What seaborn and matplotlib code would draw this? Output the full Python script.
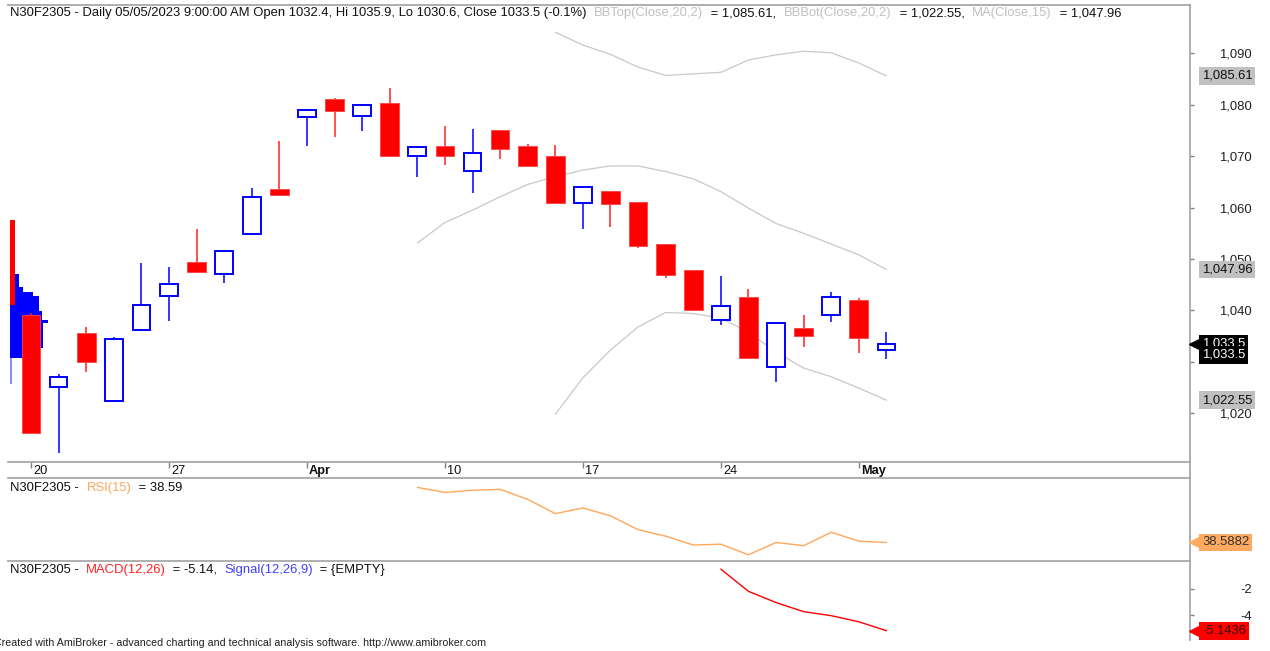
import numpy as np
import pandas as pd
import seaborn as sns
import matplotlib
matplotlib.use("Agg")
from matplotlib import pyplot as plt
from matplotlib import transforms

nan = np.nan

# ---- data (N30F2305 daily) ----
dates = ["2023-03-20", "2023-03-21", "2023-03-22", "2023-03-23", "2023-03-24",
         "2023-03-27", "2023-03-28", "2023-03-29", "2023-03-30", "2023-03-31",
         "2023-04-03", "2023-04-04", "2023-04-05", "2023-04-06", "2023-04-07",
         "2023-04-10", "2023-04-11", "2023-04-12", "2023-04-13", "2023-04-14",
         "2023-04-17", "2023-04-18", "2023-04-19", "2023-04-20", "2023-04-21",
         "2023-04-24", "2023-04-25", "2023-04-26", "2023-04-27", "2023-04-28",
         "2023-05-04", "2023-05-05"]
opens = [1039.1, 1025.1, 1035.7, 1022.3, 1036.1, 1042.8, 1049.5, 1047.0, 1054.9, 1063.6,
         1077.6, 1081.1, 1077.75, 1080.3, 1070.0, 1072.0, 1067.1, 1075.1, 1072.0, 1070.1,
         1060.95, 1063.2, 1061.0, 1052.9, 1047.9, 1038.1, 1042.7, 1029.0, 1036.6, 1039.1,
         1042.0, 1032.4]
highs = [1039.5, 1027.6, 1036.8, 1034.9, 1049.2, 1048.5, 1055.8, 1051.6, 1063.8, 1073.0,
         1079.0, 1081.4, 1079.9, 1083.25, 1071.7, 1075.9, 1075.3, 1075.1, 1072.4, 1072.2,
         1063.95, 1063.2, 1061.0, 1052.9, 1047.9, 1046.6, 1044.2, 1037.6, 1039.1, 1043.5,
         1042.5, 1035.9]
lows = [1016.2, 1012.3, 1028.0, 1022.3, 1036.1, 1037.9, 1047.5, 1045.3, 1054.9, 1062.4,
        1072.0, 1073.7, 1074.95, 1070.0, 1066.0, 1068.2, 1062.8, 1069.5, 1068.1, 1060.9,
        1055.9, 1056.2, 1052.1, 1046.25, 1040.1, 1037.1, 1030.8, 1026.0, 1032.8, 1037.7,
        1031.7, 1030.6]
closes = [1016.2, 1027.1, 1030.0, 1034.4, 1041.1, 1045.1, 1047.5, 1051.6, 1062.1, 1062.4,
          1079.0, 1078.8, 1079.9, 1070.0, 1071.7, 1070.0, 1070.7, 1071.45, 1068.1, 1060.9,
          1063.95, 1060.6, 1052.6, 1046.9, 1040.1, 1040.9, 1030.8, 1037.6, 1035.0, 1042.7,
          1034.6, 1033.5]

bb_top = [nan] * 19 + [1094.1, 1091.6, 1089.8, 1087.3, 1085.7, 1086.0, 1086.3, 1088.7,
                       1089.7, 1090.4, 1090.1, 1088.1, 1085.61]
bb_bot = [nan] * 19 + [1019.8, 1026.9, 1032.3, 1036.8, 1039.6, 1039.4, 1038.5, 1035.8,
                       1031.9, 1028.8, 1027.1, 1024.9, 1022.55]
ma15 = [nan] * 14 + [1053.1, 1057.1, 1059.5, 1062.1, 1064.5, 1066.0, 1067.3, 1068.1, 1068.1,
                     1067.0, 1065.6, 1063.1, 1059.9, 1056.9, 1055.0, 1052.9, 1050.8, 1047.96]
rsi15 = [nan] * 14 + [64.0, 61.7, 62.7, 63.1, 58.5, 51.9, 54.5, 50.9, 44.5, 41.5, 37.4, 37.8,
                      32.9, 38.6, 37.1, 43.3, 39.2, 38.5882]
macd = [nan] * 25 + [-0.54, -2.2, -3.04, -3.72, -4.02, -4.48, -5.1436]

# volume-at-price overlay (price band, relative volume)
vap_lo = [1044.5, 1043.65, 1042.9, 1039.8, 1039.25, 1038.15, 1037.5, 1036.2, 1032.65, 1030.7, 1025.7]
vap_hi = [1047.1, 1044.5, 1043.65, 1042.9, 1039.8, 1039.25, 1038.15, 1037.5, 1036.2, 1032.65, 1030.7]
vap_vol = [9, 13, 23, 29, 32, 32, 38, 33, 33, 23, 1.5]
vap_red_lo, vap_red_hi, vap_red_vol = [1041.0], [1057.5], [4.7]

price_ticks = [1020, 1030, 1040, 1050, 1060, 1070, 1080, 1090]
hidden_price_labels = [1030]   # covered by the close tags in the original
macd_ticks = [-2, -4]

# ---- frame ----
df = pd.DataFrame({"date": pd.to_datetime(dates), "open": opens, "high": highs,
                   "low": lows, "close": closes, "bbtop": bb_top, "bbbot": bb_bot,
                   "ma": ma15, "rsi": rsi15, "macd": macd})
df["i"] = np.arange(len(df))

sns.set_theme(style="white")
plt.rcParams['font.family'] = ['Liberation Sans', 'DejaVu Sans']
FS = 9.4
GRID = "#a8a8a8"

W, H = 1270, 651
fig = plt.figure(figsize=(W / 100, H / 100), dpi=100)
fig.patch.set_facecolor("white")


def box(x0, y0, x1, y1):
    return [x0 / W, 1 - y1 / H, (x1 - x0) / W, (y1 - y0) / H]


ax = fig.add_axes(box(8, 5, 1190, 462))
axd = fig.add_axes(box(8, 462, 1190, 478))
axr = fig.add_axes(box(8, 478, 1190, 561))
axm = fig.add_axes(box(8, 561, 1190, 640))

xlim = (-0.833, 42.0)
for a in (ax, axd, axr, axm):
    a.set_xlim(*xlim)
    a.set_facecolor("none")
    a.grid(False)
    for s in a.spines.values():
        s.set_color(GRID)
        s.set_linewidth(1.3)
    a.spines["left"].set_visible(False)
    a.set_xticks([])
    a.set_yticks([])

ax.spines["bottom"].set_visible(False)
axr.spines["top"].set_visible(False)
axm.spines["top"].set_visible(False)
axm.spines["bottom"].set_visible(False)

# ---- volume at price (behind candles) ----
axv = ax.twiny()
axv.set_xlim(-2, 1180)
axv.set_ylim(1010.53, 1099.39)
axv.axis("off")
axv.set_zorder(0)
ax.set_zorder(1)
lo, hi = np.array(vap_lo), np.array(vap_hi)
cols = ["#0000ff"] * (len(vap_vol) - 1) + ["#8c8cff"]
axv.barh((lo + hi) / 2, vap_vol, height=hi - lo, left=0, color=cols, linewidth=0)
rlo, rhi = np.array(vap_red_lo), np.array(vap_red_hi)
axv.barh((rlo + rhi) / 2, vap_red_vol, height=rhi - rlo, left=0, color="#ff0000", linewidth=0)

# ---- candles ----
ax.set_ylim(1010.53, 1099.39)
o, c = df["open"].values, df["close"].values
bot = np.minimum(o, c)
top = np.maximum(o, c)
up = c >= o
dn = ~up
ax.vlines(df["i"][up], df["low"][up], bot[up], color="#0000ff", lw=1.1, zorder=2)
ax.vlines(df["i"][up], top[up], df["high"][up], color="#0000ff", lw=1.1, zorder=2)
ax.vlines(df["i"][dn], df["low"][dn], bot[dn], color="#ff2020", lw=1.1, zorder=2)
ax.vlines(df["i"][dn], top[dn], df["high"][dn], color="#ff2020", lw=1.1, zorder=2)
ax.bar(df["i"][dn], (top - bot)[dn], bottom=bot[dn], width=0.68, color="#ff0000",
       edgecolor="#ff4040", linewidth=0.6, zorder=3)
ax.bar(df["i"][up], np.maximum(top - bot, 0.15)[up], bottom=bot[up], width=0.64,
       facecolor="white", edgecolor="#0000ff", linewidth=1.4, zorder=3)

for col in ["bbtop", "bbbot", "ma"]:
    d = df[["i", col]].dropna()
    sns.lineplot(x=d["i"], y=d[col], ax=ax, color="#c8c8c8", lw=0.9,
                 estimator=None, legend=False, zorder=1)

ax.yaxis.tick_right()
ax.set_yticks(price_ticks)
ax.set_yticklabels(["" if v in hidden_price_labels else f"{v:,}" for v in price_ticks])
ax.tick_params(axis="y", right=True, left=False, length=3, width=1, color="#808080",
               pad=41.6, labelsize=FS, labelcolor="#202020")
plt.setp(ax.get_yticklabels(), ha="right")
ax.set_xlabel("")
ax.set_ylabel("")

# ---- date strip ----
df["new_week"] = df["date"].dt.isocalendar().week.diff().fillna(1) != 0
df["new_month"] = df["date"].dt.month.diff().fillna(1) != 0
tick_pos, tick_lab, tick_bold = [], [], []
for _, r in df[df["new_week"]].iterrows():
    tick_pos.append(r["i"])
    if r["new_month"] and r["i"] > 0:
        tick_lab.append(r["date"].strftime("%b"))
        tick_bold.append(True)
    else:
        tick_lab.append(str(r["date"].day))
        tick_bold.append(False)
axd.set_ylim(0, 1)
axd.set_xticks(tick_pos)
axd.tick_params(axis="x", top=True, bottom=False, direction="in", length=4, width=1,
                color="#808080", labeltop=False, labelbottom=False)
dtr = transforms.blended_transform_factory(axd.transData, axd.transAxes)
for p, lab, b in zip(tick_pos, tick_lab, tick_bold):
    axd.text(p, 0.42, lab, transform=dtr + transforms.ScaledTranslation(2 / 100, 0, fig.dpi_scale_trans),
             ha="left", va="center", fontsize=9.2, fontweight="bold" if b else "normal",
             color="#101010")

# ---- RSI ----
axr.set_ylim(30.04, 68.34)
d = df[["i", "rsi"]].dropna()
sns.lineplot(x=d["i"], y=d["rsi"], ax=axr, color="#ffa75a", lw=1.0, estimator=None, legend=False)
axr.set_xlabel("")
axr.set_ylabel("")
axr.set_yticks([])

# ---- MACD ----
axm.set_ylim(-5.84, 0.07)
d = df[["i", "macd"]].dropna()
sns.lineplot(x=d["i"], y=d["macd"], ax=axm, color="#ff0000", lw=1.0, estimator=None, legend=False)
axm.yaxis.tick_right()
axm.set_yticks(macd_ticks)
axm.set_yticklabels([str(v) for v in macd_ticks])
axm.tick_params(axis="y", right=True, left=False, length=3, width=1, color="#808080",
                pad=41.6, labelsize=FS, labelcolor="#202020")
plt.setp(axm.get_yticklabels(), ha="right")
axm.set_xlabel("")
axm.set_ylabel("")


# ---- value tags on the right axis ----
def tag(a, val, text, fc, tc, arrow=False, dy=0):
    tr = transforms.blended_transform_factory(a.transAxes, a.transData)
    a.annotate(text, xy=(1, val), xycoords=tr, xytext=(12, dy), textcoords="offset pixels",
               ha="left", va="center", fontsize=FS, color=tc, annotation_clip=False,
               bbox=dict(boxstyle="square,pad=0.22", fc=fc, ec="none"), zorder=10)
    if arrow:
        mt = tr + transforms.ScaledTranslation(6 / 100, dy / 100, fig.dpi_scale_trans)
        a.plot([1], [val], marker="<", ms=10, color=fc, transform=mt, clip_on=False, zorder=10)


tag(ax, bb_top[-1], f"{bb_top[-1]:,.2f}", "#c0c0c0", "#101010")
tag(ax, ma15[-1], f"{ma15[-1]:,.2f}", "#c0c0c0", "#101010")
tag(ax, bb_bot[-1], f"{bb_bot[-1]:,.2f}", "#c0c0c0", "#101010")
tag(ax, closes[-1], f"{closes[-1]:,.1f}", "#000000", "white", arrow=True)
tag(ax, closes[-1], f"{closes[-1]:,.1f}", "#000000", "white", dy=-11)
tag(axr, rsi15[-1], f"{rsi15[-1]:.4f}", "#ffaa60", "#303030", arrow=True)
tag(axm, macd[-1], f"{macd[-1]:.4f}", "#ff0000", "#301010", arrow=True)

# ---- multi-coloured titles ----
renderer = fig.canvas.get_renderer()


def measure(s):
    t = fig.text(0, 0, s + "I", fontsize=FS)
    w = t.get_window_extent(renderer=renderer).width
    t.remove()
    t = fig.text(0, 0, "I", fontsize=FS)
    w -= t.get_window_extent(renderer=renderer).width
    t.remove()
    return w


def title(x0, y0, parts, gap=0):
    x = x0
    for s, col in parts:
        fig.text(x / W, 1 - y0 / H, s, fontsize=FS, color=col, ha="left", va="center")
        x += measure(s) + gap


K, G = "#101010", "#c0c0c0"
title(10, 13, [("N30F2305 - Daily 05/05/2023 9:00:00 AM Open 1032.4, Hi 1035.9, Lo 1030.6, "
                "Close 1033.5 (-0.1%) ", K),
               ("BBTop(Close,20,2)", G), (" = 1,085.61, ", K),
               ("BBBot(Close,20,2)", G), (" = 1,022.55, ", K),
               ("MA(Close,15)", G), (" = 1,047.96", K)], gap=4)
title(10, 488, [("N30F2305 - ", K), ("RSI(15)", "#ffa75a"), (" = 38.59", K)], gap=4)
title(10, 570, [("N30F2305 - ", K), ("MACD(12,26)", "#ff2020"), (" = -5.14, ", K),
                ("Signal(12,26,9)", "#4040ff"), (" = {EMPTY}", K)], gap=3.5)

fig.text(-6 / W, 1 - 643 / H, "Created with AmiBroker - advanced charting and technical "
         "analysis software. http://www.amibroker.com", fontsize=7.7, color="#202020",
         ha="left", va="center")

fig.savefig("out.png", dpi=100)
